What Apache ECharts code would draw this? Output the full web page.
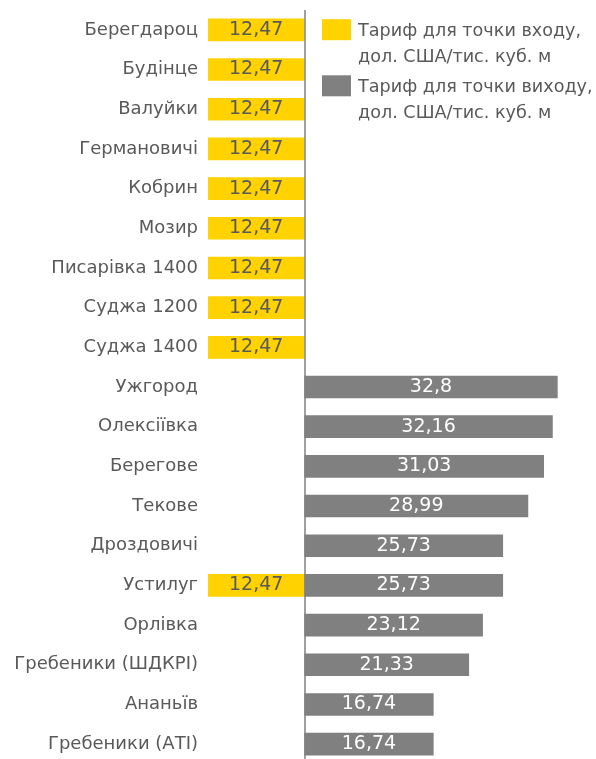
<!DOCTYPE html>
<html>
<head>
<meta charset="utf-8">
<script src="https://cdn.jsdelivr.net/npm/echarts@6/dist/echarts.min.js"></script>
<style>
  html, body { margin: 0; padding: 0; background: #fff; }
  #chart { width: 596px; height: 759px; }
</style>
</head>
<body>
<div id="chart"></div>
<script>
// categories top to bottom
const points = [
  'Берегдароц', 'Будінце', 'Валуйки', 'Германовичі', 'Кобрин', 'Мозир',
  'Писарівка 1400', 'Суджа 1200', 'Суджа 1400', 'Ужгород', 'Олексіївка',
  'Берегове', 'Текове', 'Дроздовичі', 'Устилуг', 'Орлівка',
  'Гребеники (ШДКРІ)', 'Ананьїв', 'Гребеники (АТІ)'
];

// tariff for entry point (drawn to the left)
const entryTariff = [
  12.47, 12.47, 12.47, 12.47, 12.47, 12.47, 12.47, 12.47, 12.47,
  null, null, null, null, null, 12.47, null, null, null, null
];

// tariff for exit point (drawn to the right)
const exitTariff = [
  null, null, null, null, null, null, null, null, null,
  32.8, 32.16, 31.03, 28.99, 25.73, 25.73, 23.12, 21.33, 16.74, 16.74
];

const seriesNames = [
  'Тариф для точки входу, дол. США/тис. куб. м',
  'Тариф для точки виходу, дол. США/тис. куб. м'
];

const FONT = '"DejaVu Sans", sans-serif';
const TEXT = '#595959';
const fmt = (v) => String(Math.abs(v)).replace('.', ',');

const legendText = {
  color: TEXT,
  fontFamily: FONT,
  fontSize: 17.6,
  padding: [0, 0, 0, 2],
  rich: {
    pad: { fontSize: 17.6, lineHeight: 30 },
    t: { color: TEXT, fontFamily: FONT, fontSize: 17.6, lineHeight: 26 }
  }
};
// blank first line keeps the first text line level with the icon
const legendName = (name) =>
  '{pad| }\n' + name.split(', ').map((s, i) => '{t|' + s + (i ? '' : ',') + '}').join('\n');

const chart = echarts.init(document.getElementById('chart'));
chart.setOption({
  animation: false,
  grid: {
    left: 208, right: 2, top: 10, height: 754,
    containLabel: false, outerBoundsMode: 'none'
  },
  legend: [
    {
      data: [seriesNames[0]], left: 322, top: -5.3, padding: 0,
      itemWidth: 29, itemHeight: 21, icon: 'rect',
      textStyle: legendText, formatter: legendName, selectedMode: false
    },
    {
      data: [seriesNames[1]], left: 322, top: 50.8, padding: 0,
      itemWidth: 29, itemHeight: 21, icon: 'rect',
      textStyle: legendText, formatter: legendName, selectedMode: false
    }
  ],
  xAxis: {
    type: 'value', min: -12.47, max: 37.5,
    show: false
  },
  yAxis: {
    type: 'category', data: points, inverse: true,
    axisLine: { show: false }, axisTick: { show: false },
    axisLabel: { color: TEXT, fontFamily: FONT, fontSize: 18, margin: 10 }
  },
  series: [
    {
      name: seriesNames[0], type: 'bar', stack: 'tariff', barWidth: '57%',
      data: entryTariff.map((v) => (v == null ? null : -v)),
      itemStyle: { color: '#FFD200' },
      label: {
        show: true, position: 'inside', color: TEXT,
        fontFamily: FONT, fontSize: 19, formatter: (p) => fmt(p.value)
      }
    },
    {
      name: seriesNames[1], type: 'bar', stack: 'tariff', barWidth: '57%',
      data: exitTariff,
      itemStyle: { color: '#808080' },
      label: {
        show: true, position: 'inside', color: '#fff',
        fontFamily: FONT, fontSize: 19, formatter: (p) => fmt(p.value)
      },
      markLine: {
        silent: true, symbol: 'none', label: { show: false },
        lineStyle: { color: '#808080', width: 1.5, type: 'solid' },
        data: [{ xAxis: 0 }]
      }
    }
  ]
});
</script>
</body>
</html>
